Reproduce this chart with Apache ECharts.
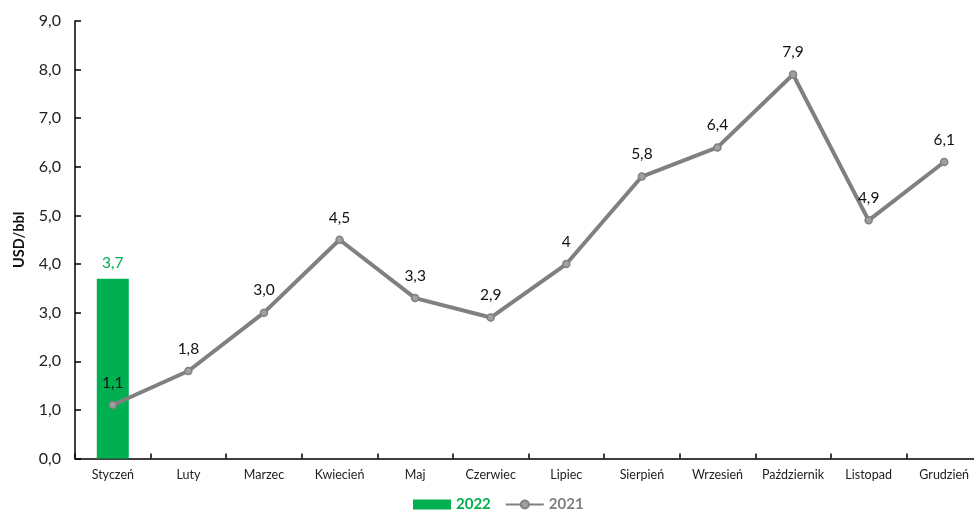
<!DOCTYPE html>
<html>
<head>
<meta charset="utf-8">
<script src="https://cdn.jsdelivr.net/npm/echarts@6/dist/echarts.min.js"></script>
<style>
html,body{margin:0;padding:0;background:#fff;}
#chart{width:974px;height:510px;}
</style>
</head>
<body>
<div id="chart"></div>
<script>
var months = ['Styczeń','Luty','Marzec','Kwiecień','Maj','Czerwiec','Lipiec','Sierpień','Wrzesień','Październik','Listopad','Grudzień'];
var values2022 = [3.7, null, null, null, null, null, null, null, null, null, null, null];
var values2021 = [1.1, 1.8, 3.0, 4.5, 3.3, 2.9, 4.0, 5.8, 6.4, 7.9, 4.9, 6.1];
var labels2021 = ['1,1','1,8','3,0','4,5','3,3','2,9','4','5,8','6,4','7,9','4,9','6,1'];
var yTicks = [0,1,2,3,4,5,6,7,8,9];

var FONT = 'Lato, "Open Sans", sans-serif';
var chart = echarts.init(document.getElementById('chart'));
chart.setOption({
  animation: false,
  textStyle: {fontFamily: FONT},
  grid: {left: 75, right: -8, top: 21, bottom: 51.5, containLabel: false, outerBoundsMode: 'none'},
  legend: {
    left: 408, top: 492,
    itemGap: 14,
    itemWidth: 38, itemHeight: 10,
    textStyle: {fontSize: 15, fontWeight: 'bold', fontFamily: FONT},
    data: [
      {name: '2022', icon: 'rect', textStyle: {color: '#00B050'}},
      {name: '2021', textStyle: {color: '#808080'}}
    ]
  },
  xAxis: {
    type: 'category',
    data: months,
    boundaryGap: true,
    axisLine: {lineStyle: {color: '#000', width: 1.5}},
    axisTick: {show: true, inside: true, length: 5, alignWithLabel: false, lineStyle: {color: '#000', width: 1.5}},
    axisLabel: {color: '#222', fontSize: 12.5, margin: 10, fontFamily: FONT, interval: 0}
  },
  yAxis: {
    type: 'value',
    min: yTicks[0], max: yTicks[yTicks.length-1], interval: 1,
    name: 'USD/bbl',
    nameLocation: 'middle',
    nameGap: 48,
    nameRotate: 90,
    nameTextStyle: {color: '#111', fontSize: 14.5, fontWeight: 'bold', fontFamily: FONT},
    axisLine: {show: true, lineStyle: {color: '#000', width: 1.5}},
    axisTick: {show: true, inside: true, length: 6, lineStyle: {color: '#000', width: 1.5}},
    splitLine: {show: false},
    axisLabel: {color: '#222', fontSize: 16, margin: 14, fontFamily: FONT,
      formatter: function(v){ return v.toFixed(1).replace('.', ','); }}
  },
  series: [
    {
      name: '2022',
      type: 'bar',
      data: values2022,
      barWidth: 32,
      itemStyle: {color: '#00B050'},
      label: {show: true, position: 'top', distance: 8, color: '#00B050', fontSize: 15.5, fontFamily: FONT,
        formatter: function(p){ return p.value == null ? '' : p.value.toFixed(1).replace('.', ','); }},
      z: 1
    },
    {
      name: '2021',
      type: 'line',
      data: values2021,
      symbol: 'circle',
      symbolSize: 7,
      lineStyle: {color: '#808080', width: 4},
      itemStyle: {color: '#a0a0a0', borderColor: '#808080', borderWidth: 1.5},
      label: {show: true, position: 'top', distance: 10, color: '#111', fontSize: 15.5, fontFamily: FONT,
        formatter: function(p){ return labels2021[p.dataIndex]; }},
      z: 3
    }
  ]
});
</script>
</body>
</html>
